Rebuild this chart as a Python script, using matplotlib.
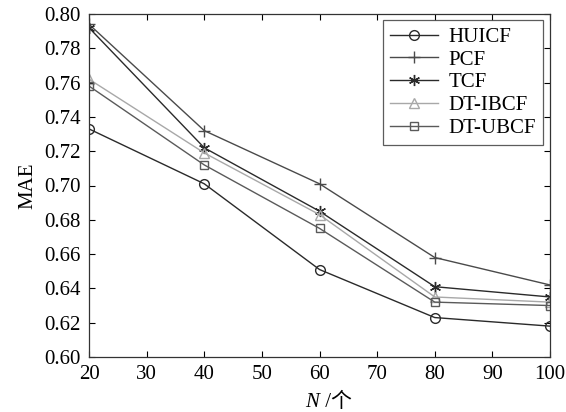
import matplotlib.pyplot as plt

# ---- DATA ----
n_values = [20, 40, 60, 80, 100]
huicf = [0.733, 0.701, 0.651, 0.623, 0.618]
pcf = [0.794, 0.732, 0.701, 0.658, 0.642]
tcf = [0.792, 0.722, 0.685, 0.641, 0.635]
dt_ibcf = [0.762, 0.719, 0.683, 0.635, 0.632]
dt_ubcf = [0.758, 0.712, 0.675, 0.632, 0.630]

plt.rcParams["font.family"] = ["Liberation Serif", "Noto Sans CJK SC"]

fig = plt.figure(figsize=(5.66, 4.12), dpi=100)
ax = fig.add_axes([89 / 566, 1 - 357 / 412, (550 - 89) / 566, (357 - 14) / 412])

ax.plot(n_values, huicf, color="#2a2a2a", lw=1, marker="o", ms=7, mfc="none", mew=1, label="HUICF")
ax.plot(n_values, pcf, color="#4a4a4a", lw=1, marker="+", ms=9, mew=1, label="PCF")
ax.plot(n_values, tcf, color="#2a2a2a", lw=1, marker=(6, 2, 0), ms=8, mew=1, label="TCF")
ax.plot(n_values, dt_ibcf, color="#a8a8a8", lw=1, marker="^", ms=7, mfc="none", mew=1, label="DT-IBCF")
ax.plot(n_values, dt_ubcf, color="#5a5a5a", lw=1, marker="s", ms=6, mfc="none", mew=1, label="DT-UBCF")

ax.set_xlim(20, 100)
ax.set_ylim(0.60, 0.80)
ax.set_xticks(range(20, 101, 10))
ax.set_yticks([0.60 + 0.02 * i for i in range(11)])
ax.set_yticklabels([f"{0.60 + 0.02 * i:.2f}" for i in range(11)])
ax.tick_params(direction="in", top=True, right=True, labelsize=15, length=4, width=0.8, pad=6)
for s in ax.spines.values():
    s.set_linewidth(0.9)
    s.set_color("#333333")

ax.set_ylabel("MAE", fontsize=15, labelpad=5)
ax.text(0.5, -0.105, "N", style="italic", fontsize=15, ha="right", va="top", transform=ax.transAxes)
ax.text(0.5, -0.105, " /个", fontsize=15, ha="left", va="top", transform=ax.transAxes)

leg = ax.legend(loc="upper right", fontsize=15, handlelength=2.3, frameon=True, fancybox=False,
                edgecolor="#333333", borderpad=0.35, labelspacing=0.15, handletextpad=0.5,
                borderaxespad=0, bbox_to_anchor=(0.985, 0.982))
leg.get_frame().set_linewidth(0.9)

fig.savefig("out.png", dpi=100)
